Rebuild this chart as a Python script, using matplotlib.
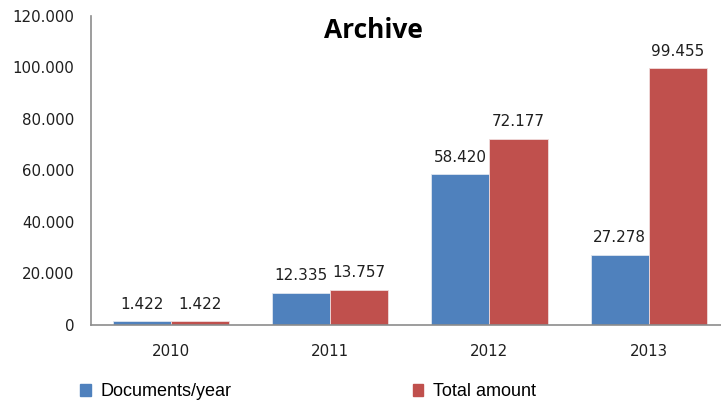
import numpy as np
import matplotlib
matplotlib.use("Agg")
import matplotlib.pyplot as plt
from matplotlib.patches import Patch
from matplotlib.ticker import FuncFormatter

# chart data
years = ["2010", "2011", "2012", "2013"]
docs_per_year = [1422, 12335, 58420, 27278]
total_amount = [1422, 13757, 72177, 99455]
series_names = ["Documents/year", "Total amount"]

BLUE = "#4F81BD"
RED = "#C0504D"
TEXT = "#1f1f1f"


def dot_thousands(v, pos=None):
    # european style: 12.335 instead of 12,335
    return f"{int(v):,}".replace(",", ".")


fig = plt.figure(figsize=(7.21, 4.01), dpi=100)
ax = fig.add_axes([91 / 721, 1 - 325 / 401, 1 - 91 / 721, (325 - 15.5) / 401])

x = np.arange(len(years))
w = 0.365
b1 = ax.bar(x - w / 2, docs_per_year, w, color=BLUE, edgecolor="#dfe6f0", linewidth=0.6)
b2 = ax.bar(x + w / 2, total_amount, w, color=RED, edgecolor="#f0dcdc", linewidth=0.6)

for bars in (b1, b2):
    labels = [dot_thousands(b.get_height()) for b in bars]
    ax.bar_label(bars, labels=labels, padding=7, fontsize=11, color=TEXT,
                 family="DejaVu Sans")

ax.set_xlim(-0.5, 3.5 - 7.5 / 159)
ax.set_ylim(0, 120000)
ax.set_yticks(np.arange(0, 120001, 20000))
ax.yaxis.set_major_formatter(FuncFormatter(dot_thousands))
ax.set_xticks(x)
ax.set_xticklabels(years)

ax.tick_params(axis="y", length=0, pad=12, labelsize=10.8, labelcolor=TEXT)
ax.tick_params(axis="x", length=0, pad=14, labelsize=10.8, labelcolor=TEXT)

for side in ("top", "right"):
    ax.spines[side].set_visible(False)
for side in ("left", "bottom"):
    ax.spines[side].set_color("#8c8c8c")
    ax.spines[side].set_linewidth(1.2)

fig.text(373 / 721, 1 - 30 / 401, "Archive", ha="center", va="center",
         fontsize=19, fontweight="bold", family="Open Sans", color="black")

handles = [Patch(color=BLUE), Patch(color=RED)]
fig.legend(handles, series_names, loc="center left", bbox_to_anchor=(73 / 721, 1 - 392 / 401),
           ncol=2, frameon=False, handlelength=0.6, handleheight=0.6, handletextpad=0.55,
           columnspacing=10.0, borderaxespad=0, prop={"family": "Liberation Sans", "size": 13})

fig.savefig("out.png", dpi=100)
